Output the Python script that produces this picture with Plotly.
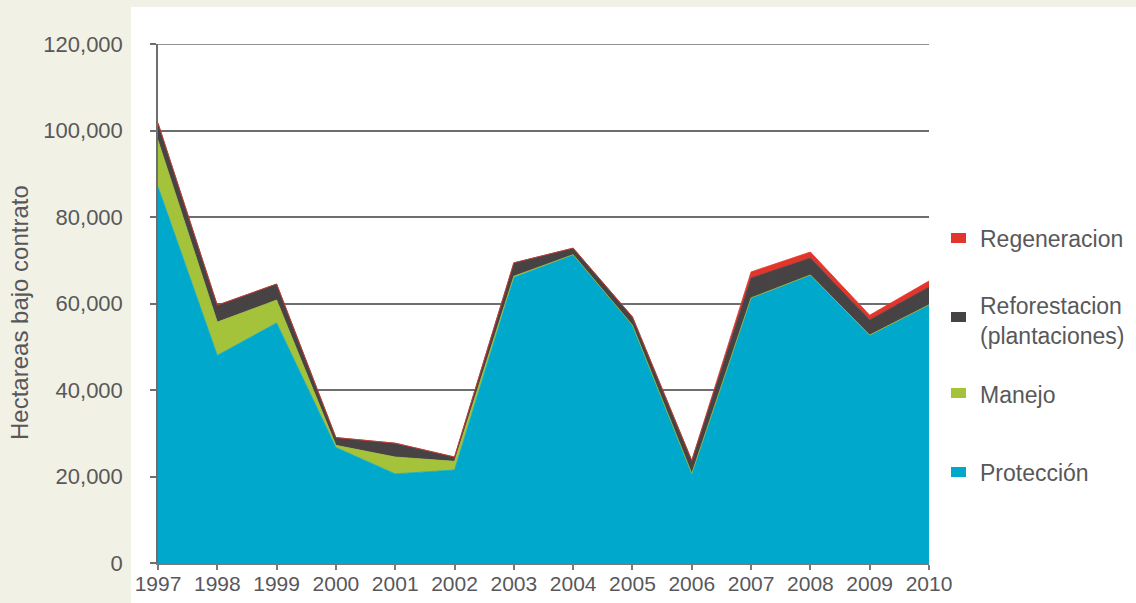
import plotly.graph_objects as go

years = [1997, 1998, 1999, 2000, 2001, 2002, 2003, 2004, 2005, 2006, 2007, 2008, 2009, 2010]
proteccion = [87000, 48000, 55500, 26700, 20600, 21500, 66000, 71300, 55000, 20700, 61300, 66600, 52700, 59700]
manejo = [10700, 7700, 5300, 500, 3900, 2000, 300, 0, 0, 0, 0, 0, 0, 0]
reforestacion = [4000, 3900, 3700, 1800, 3200, 1000, 3100, 1500, 1900, 3000, 4600, 3900, 3500, 4100]
regeneracion = [0, 0, 0, 0, 0, 0, 0, 0, 0, 0, 1400, 1400, 1100, 1400]

series_names = ["Protección", "Manejo", "Reforestacion<br>(plantaciones)", "Regeneracion"]
series_values = [proteccion, manejo, reforestacion, regeneracion]
series_colors = ["#00a8cb", "#a5c23b", "#474344", "#e2352b"]

y_ticks = [0, 20000, 40000, 60000, 80000, 100000, 120000]
y_ticklabels = ["0", "20,000", "40,000", "60,000", "80,000", "100,000", "120,000"]
y_title = "Hectareas bajo contrato"

FONT = "Liberation Sans, Arial, sans-serif"
TXT = "#58585a"
GRID = "#6e6e6e"

fig = go.Figure()
for name, vals, col in zip(series_names, series_values, series_colors):
    fig.add_trace(go.Scatter(
        x=years, y=vals, name=name, stackgroup="one", mode="lines",
        line=dict(width=0.8, color=col), fillcolor=col, showlegend=False,
        hoverinfo="x+y+name",
    ))

# plot geometry in pixels
W, H = 1136, 603
L, R, T, B = 158, 929, 44, 563
pw, ph = R - L, B - T

def px(x):
    return (x - L) / pw

def py(y):
    return (B - y) / ph

shapes = [
    dict(type="rect", xref="paper", yref="paper", x0=px(131), x1=px(1140), y0=py(607), y1=py(7),
         fillcolor="white", line=dict(width=0), layer="below"),
    # top gridline at the range edge
    dict(type="line", xref="paper", yref="y", x0=0, x1=1, y0=y_ticks[-1], y1=y_ticks[-1],
         line=dict(color=GRID, width=1.5), layer="below"),
]
annotations = [
    dict(text=y_title, xref="paper", yref="paper", x=px(19), y=py(313), textangle=-90,
         showarrow=False, font=dict(family=FONT, size=24, color=TXT), xanchor="center", yanchor="middle"),
]

# manual legend (top to bottom)
legend_items = [
    ("Regeneracion", series_colors[3], 238, 239),
    ("Reforestacion<br>(plantaciones)", series_colors[2], 317, 321),
    ("Manejo", series_colors[1], 393, 395),
    ("Protección", series_colors[0], 472, 473),
]
for text, col, my, ty in legend_items:
    shapes.append(dict(type="rect", xref="paper", yref="paper", x0=px(951), x1=px(966),
                       y0=py(my + 5), y1=py(my - 5), fillcolor=col, line=dict(width=0), layer="above"))
    annotations.append(dict(text=text, xref="paper", yref="paper", x=px(978), y=py(ty),
                            showarrow=False, xanchor="left", yanchor="middle", align="left",
                            font=dict(family=FONT, size=23, color=TXT)))

fig.update_layout(
    width=W, height=H,
    margin=dict(l=L, r=W - R, t=T, b=H - B, pad=0, autoexpand=False),
    paper_bgcolor="#f1f1e5",
    plot_bgcolor="white",
    showlegend=False,
    shapes=shapes,
    annotations=annotations,
    font=dict(family=FONT, color=TXT),
    xaxis=dict(
        range=[1997, 2010], tickmode="array", tickvals=years, ticktext=[str(y) for y in years],
        showgrid=False, showline=True, linecolor="#7a7a7a", linewidth=1.5,
        ticks="outside", ticklen=5, tickcolor="#7a7a7a", tickwidth=1.5,
        ticklabelstandoff=-4, automargin=False,
        tickfont=dict(family=FONT, size=21, color=TXT), zeroline=False, fixedrange=True,
    ),
    yaxis=dict(
        range=[0, 120000], tickmode="array", tickvals=y_ticks, ticktext=y_ticklabels,
        showgrid=True, gridcolor=GRID, gridwidth=1.5,
        showline=True, linecolor=GRID, linewidth=1.5,
        ticks="outside", ticklen=6, tickcolor=GRID, tickwidth=1.5,
        ticklabelstandoff=23, automargin=False,
        tickfont=dict(family=FONT, size=22, color=TXT), zeroline=False, fixedrange=True,
    ),
)

fig.write_html("out.html")
